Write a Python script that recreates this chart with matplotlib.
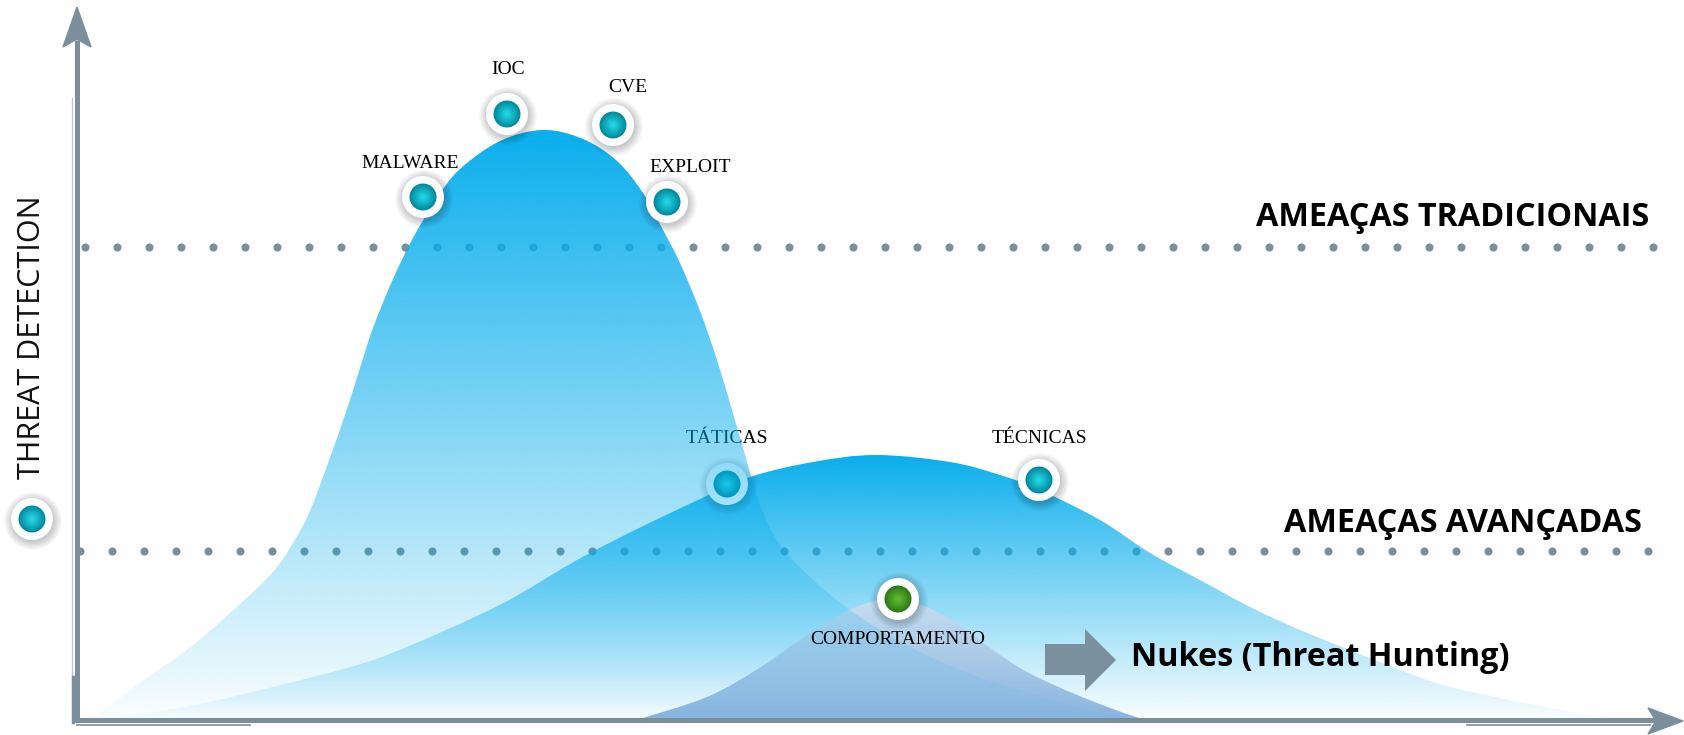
import numpy as np
import matplotlib.pyplot as plt
from matplotlib.path import Path
from matplotlib.patches import PathPatch, Circle, Polygon

# outlines, pixel coords (y grows downward)
base_y = 720
tall_x = [90, 143, 193, 240, 273, 293, 310, 327, 347, 360, 373, 393, 413, 437, 460, 500, 543,
          583, 617, 643, 663, 680, 700, 717, 732, 745, 760, 780, 810, 843, 880, 920, 965, 1029, 1100, 1140]
tall_y = [720, 681, 645, 604, 572, 543, 511, 466, 409, 368, 328, 279, 238, 198, 169, 141, 130,
          139, 161, 193, 230, 263, 311, 360, 410, 455, 505, 545, 577, 605, 630, 652, 672, 693, 713, 720]
wide_x = [90, 185, 289, 373, 446, 509, 577, 635, 698, 750, 813, 876, 950, 1000, 1040, 1100,
          1150, 1200, 1250, 1300, 1350, 1400, 1450, 1525, 1600, 1640]
wide_y = [720, 707, 683, 660, 630, 600, 560, 530, 500, 477, 462, 455, 462, 475, 490, 520,
          553, 580, 607, 630, 650, 670, 687, 703, 717, 720]
small_x = [636, 707, 761, 804, 843, 871, 893, 921, 957, 993, 1029, 1082, 1136, 1157]
small_y = [720, 697, 667, 637, 613, 602, 600, 605, 623, 650, 673, 697, 717, 720]

# markers on the curves
labels = ['MALWARE', 'IOC', 'CVE', 'EXPLOIT', 'TÉCNICAS', 'COMPORTAMENTO']
mark_x = [423, 507, 613, 667, 1039, 898]
mark_y = [197, 114, 125, 202, 480, 599]
label_x = [410, 508, 628, 690, 1039, 898]
label_y = [163, 69, 87, 167, 438, 639]
tat_label, tat_mark, tat_text = 'TÁTICAS', (727, 484), (727, 438)

levels = ['AMEAÇAS TRADICIONAIS', 'AMEAÇAS AVANÇADAS']
level_y = [247, 551]

blue = np.array([9, 174, 237]) / 255
grey = '#7a8f9b'
teal = ('#008c9e', '#22d2e2')
green = ('#2f7a17', '#5cb82e')


def smooth_path(xs, ys):
    pts = np.column_stack([xs, ys]).astype(float)
    n = len(pts)
    verts, codes = [pts[0]], [Path.MOVETO]
    for i in range(n - 1):
        p0, p1 = pts[max(i - 1, 0)], pts[i]
        p2, p3 = pts[i + 1], pts[min(i + 2, n - 1)]
        verts += [p1 + (p2 - p0) / 6, p2 - (p3 - p1) / 6, p2]
        codes += [Path.CURVE4] * 3
    verts += [(xs[0], base_y), (xs[0], base_y)]
    codes += [Path.LINETO, Path.CLOSEPOLY]
    return Path(verts, codes)


def gradient_fill(ax, path, top, bot, a_top, a_bot, z):
    patch = PathPatch(path, facecolor='none', edgecolor='none')
    ax.add_patch(patch)
    ext = path.get_extents()
    t = np.linspace(0, 1, 256)[:, None]
    rgba = np.zeros((256, 1, 4))
    for c in range(3):
        rgba[:, :, c] = (1 - t) * top[c] + t * bot[c]
    rgba[:, :, 3] = (1 - t) * a_top + t * a_bot
    im = ax.imshow(rgba, extent=(ext.x0, ext.x1, base_y, ext.y0), origin='upper',
                   aspect='auto', interpolation='bilinear', zorder=z)
    im.set_clip_path(patch)


def marker(ax, x, y, core, z):
    for k in range(9):
        ax.add_patch(Circle((x + 1, y + 2), 21 + k, color='black', alpha=0.025, lw=0, zorder=z))
    ax.add_patch(Circle((x, y), 21, color='white', lw=0, zorder=z))
    edge, mid = np.array(plt.matplotlib.colors.to_rgb(core[0])), np.array(plt.matplotlib.colors.to_rgb(core[1]))
    for r in np.linspace(13.5, 2.5, 8):
        f = 1 - (r - 2.5) / 11
        ax.add_patch(Circle((x, y), r, color=edge * (1 - f) + mid * f, lw=0, zorder=z))


fig = plt.figure(figsize=(16.84, 7.35), dpi=100)
ax = fig.add_axes([0, 0, 1, 1])

# dotted level lines
for start, ly in zip([85, 80], level_y):
    xs = np.arange(start, 1660, 32)
    ax.scatter(xs, np.full(len(xs), ly), s=34, color=grey, lw=0, zorder=1)

gradient_fill(ax, smooth_path(wide_x, wide_y), blue, blue, 1.0, 0.02, 2)
gradient_fill(ax, smooth_path(small_x, small_y), np.array([205, 222, 240]) / 255,
              np.array([128, 174, 220]) / 255, 0.9, 0.92, 3)

# TÁTICAS sits under the tall curve
marker(ax, tat_mark[0], tat_mark[1], teal, 3.5)
ax.text(tat_text[0], tat_text[1], tat_label, ha='center', va='center', fontsize=14,
        family='Liberation Serif', color='black', zorder=3.5)

gradient_fill(ax, smooth_path(tall_x, tall_y), blue, blue, 1.0, 0.02, 4)

# axes
ax.plot([77, 77], [722, 40], color=grey, lw=3.6, solid_capstyle='butt', zorder=5)
ax.plot([72, 72], [98, 677], color='#b9c4ca', lw=0.9, zorder=5)
ax.plot([73, 73], [677, 722], color=grey, lw=2.5, zorder=5)
ax.add_patch(Polygon([(77, 7), (63, 47), (77, 39), (91, 47)], color=grey, zorder=5))
ax.plot([75, 1660], [720, 720], color=grey, lw=3.6, solid_capstyle='butt', zorder=5)
ax.plot([77, 250], [725, 725], color=grey, lw=1.2, zorder=5)
ax.plot([1467, 1650], [725, 725], color=grey, lw=1.2, zorder=5)
ax.add_patch(Polygon([(1683, 721), (1648, 708), (1656, 721), (1648, 734)], color=grey, zorder=5))

for name, mx, my, lx, ly in zip(labels, mark_x, mark_y, label_x, label_y):
    marker(ax, mx, my, green if name == 'COMPORTAMENTO' else teal, 6)
    ax.text(lx, ly, name, ha='center', va='center', fontsize=14,
            family='Liberation Serif', color='black', zorder=7)

marker(ax, 32, 519, teal, 6)
ax.text(32, 337, 'THREAT DETECTION', rotation=90, ha='center', va='center',
        fontsize=22, family='Open Sans', color='#111111', zorder=7)

ax.text(1649, 217, levels[0], ha='right', va='center', fontsize=23.3,
        fontweight='bold', family='Open Sans', zorder=7)
ax.text(1642, 523, levels[1], ha='right', va='center', fontsize=23.3,
        fontweight='bold', family='Open Sans', zorder=7)

ax.add_patch(Polygon([(1045, 644), (1085, 644), (1085, 629), (1116, 660), (1085, 691),
                      (1085, 675), (1045, 675)], color='#7a909c', lw=0, zorder=6))
ax.text(1131, 658, 'Nukes (Threat Hunting)', ha='left', va='center', fontsize=23.3,
        fontweight='bold', family='Open Sans', zorder=7)

ax.set_xlim(0, 1684)
ax.set_ylim(735, 0)
ax.axis('off')
fig.savefig('out.png', dpi=100, facecolor='white')
